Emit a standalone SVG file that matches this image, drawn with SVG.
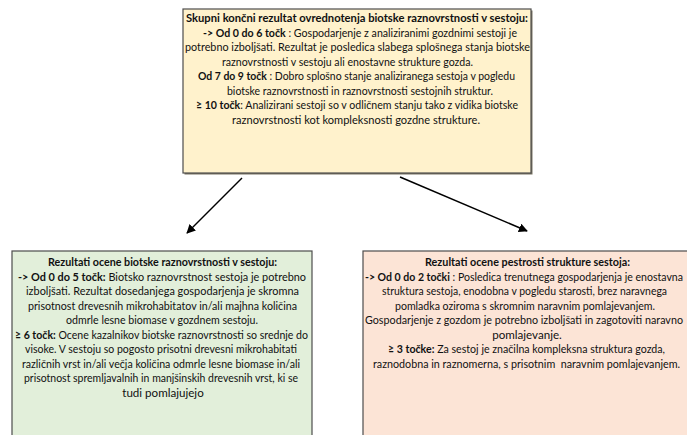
<svg xmlns="http://www.w3.org/2000/svg" width="687" height="435" viewBox="0 0 687 435">
  <style>
    .box { stroke: #4d4d4d; stroke-width: 1.2; }
    .shadow { fill: #7a7462; }
    .t { font-family: Lato, "Liberation Sans", sans-serif; font-size: 11.6px; fill: #111; }
    .n { font-size: 10.7px; }
    .c { text-anchor: middle; }
    .b { font-weight: bold; }
    .conn { stroke: #000; stroke-width: 1.5; fill: none; marker-end: url(#arrow); }
  </style>
  <defs>
    <marker id="arrow" viewBox="0 0 10 10" refX="9" refY="5" markerWidth="6" markerHeight="6" orient="auto" markerUnits="strokeWidth">
      <path d="M0,0 L10,5 L0,10 z" fill="#000"/>
    </marker>
  </defs>

  <!-- overall result -->
  <g id="node-total">
    <rect class="shadow" x="184.5" y="10.5" width="348" height="164"/>
    <rect class="box" x="183" y="9" width="348" height="164" fill="#FFF2CC"/>
    <text class="t" x="186" y="22" textLength="342" lengthAdjust="spacingAndGlyphs"><tspan class="b">Skupni končni rezultat ovrednotenja biotske raznovrstnosti v sestoju:</tspan></text>
    <text class="t" x="203" y="36.5" textLength="314" lengthAdjust="spacingAndGlyphs"><tspan class="b">-&gt; Od 0 do 6 točk</tspan> : Gospodarjenje z analiziranimi gozdnimi sestoji je</text>
    <text class="t" x="185" y="51" textLength="345" lengthAdjust="spacingAndGlyphs">potrebno izboljšati. Rezultat je posledica slabega splošnega stanja biotske</text>
    <text class="t" x="222" y="65.5" textLength="251" lengthAdjust="spacingAndGlyphs">raznovrstnosti v sestoju ali enostavne strukture gozda.</text>
    <text class="t" x="198" y="80" textLength="317" lengthAdjust="spacingAndGlyphs"><tspan class="b">Od 7 do 9 točk</tspan> : Dobro splošno stanje analiziranega sestoja v pogledu</text>
    <text class="t" x="227" y="94.5" textLength="266" lengthAdjust="spacingAndGlyphs">biotske raznovrstnosti in raznovrstnosti sestojnih struktur.</text>
    <text class="t" x="196" y="109" textLength="322" lengthAdjust="spacingAndGlyphs"><tspan class="b">≥ 10 točk</tspan>: Analizirani sestoji so v odličnem stanju tako z vidika biotske</text>
    <text class="t" x="232" y="123.5" textLength="248" lengthAdjust="spacingAndGlyphs">raznovrstnosti kot kompleksnosti gozdne strukture.</text>
  </g>

  <!-- biodiversity result -->
  <g id="node-biodiversity">
    <rect class="box" x="12" y="251" width="300" height="200" fill="#E2EFDA"/>
    <text class="t" x="48" y="266" textLength="229" lengthAdjust="spacingAndGlyphs"><tspan class="b">Rezultati ocene biotske raznovrstnosti v sestoju:</tspan></text>
    <text class="t" x="18" y="280.5" textLength="288" lengthAdjust="spacingAndGlyphs"><tspan class="b">-&gt; Od 0 do 5 točk:</tspan> Biotsko raznovrstnost sestoja je potrebno</text>
    <text class="t" x="26" y="295" textLength="273" lengthAdjust="spacingAndGlyphs">izboljšati. Rezultat dosedanjega gospodarjenja je skromna</text>
    <text class="t" x="28" y="309.5" textLength="269" lengthAdjust="spacingAndGlyphs">prisotnost drevesnih mikrohabitatov in/ali majhna količina</text>
    <text class="t" x="66" y="324" textLength="192" lengthAdjust="spacingAndGlyphs">odmrle lesne biomase v gozdnem sestoju.</text>
    <text class="t" x="15" y="338.5" textLength="293" lengthAdjust="spacingAndGlyphs"><tspan class="b">≥ 6 točk:</tspan> Ocene kazalnikov biotske raznovrstnosti so srednje do</text>
    <text class="t" x="25" y="353" textLength="272" lengthAdjust="spacingAndGlyphs">visoke. V sestoju so pogosto prisotni drevesni mikrohabitati</text>
    <text class="t" x="22" y="367.5" textLength="278" lengthAdjust="spacingAndGlyphs">različnih vrst in/ali večja količina odmrle lesne biomase in/ali</text>
    <text class="t" x="24" y="382" textLength="274" lengthAdjust="spacingAndGlyphs">prisotnost spremljavalnih in manjšinskih drevesnih vrst, ki se</text>
    <text class="t c" x="163" y="396.5">tudi pomlajujejo</text>
  </g>

  <!-- stand structure result -->
  <g id="node-structure">
    <rect class="box" x="363" y="251" width="330" height="200" fill="#FCE4D6"/>
    <text class="t" x="425" y="266" textLength="205" lengthAdjust="spacingAndGlyphs"><tspan class="b">Rezultati ocene pestrosti strukture sestoja:</tspan></text>
    <text class="t n" x="365" y="280.5" textLength="318" lengthAdjust="spacingAndGlyphs"><tspan class="b">-&gt; Od 0 do 2 točki</tspan> : Posledica trenutnega gospodarjenja je enostavna</text>
    <text class="t n" x="382" y="295" textLength="285" lengthAdjust="spacingAndGlyphs">struktura sestoja, enodobna v pogledu starosti, brez naravnega</text>
    <text class="t" x="395" y="309.5" textLength="260" lengthAdjust="spacingAndGlyphs">pomladka oziroma s skromnim naravnim pomlajevanjem.</text>
    <text class="t n" x="365" y="324" textLength="318" lengthAdjust="spacingAndGlyphs">Gospodarjenje z gozdom je potrebno izboljšati in zagotoviti naravno</text>
    <text class="t c" x="527" y="338.5">pomlajevanje.</text>
    <text class="t" x="388" y="353" textLength="277" lengthAdjust="spacingAndGlyphs"><tspan class="b">≥ 3 točke:</tspan> Za sestoj je značilna kompleksna struktura gozda,</text>
    <text class="t n" x="373" y="367.5" textLength="307" lengthAdjust="spacingAndGlyphs" xml:space="preserve">raznodobna in raznomerna, s prisotnim  naravnim pomlajevanjem.</text>
  </g>

  <g id="connectors">
    <line class="conn" x1="242" y1="178" x2="187" y2="233"/>
    <line class="conn" x1="400" y1="177" x2="527" y2="231"/>
  </g>
</svg>
